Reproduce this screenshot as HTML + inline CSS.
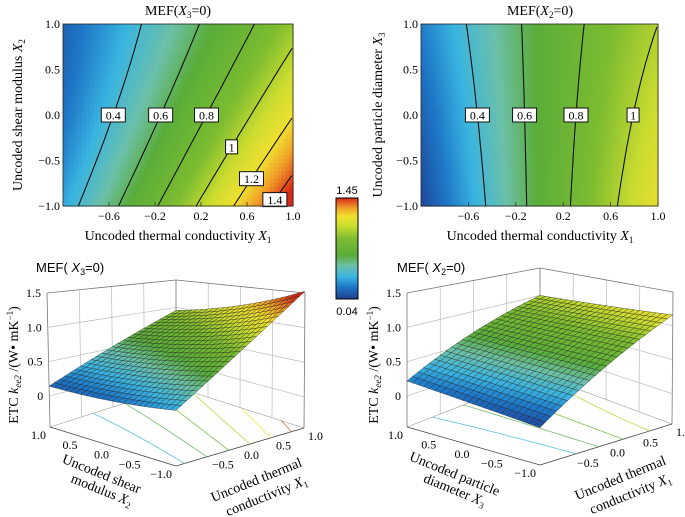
<!DOCTYPE html>
<html><head><meta charset="utf-8">
<style>
body{margin:0;background:#fff;}
svg{display:block;font-family:"Liberation Serif",serif;}
</style></head>
<body>
<svg id="fig" width="685" height="517" viewBox="0 0 685 517" xmlns="http://www.w3.org/2000/svg">
<defs>
<linearGradient id="cbgrad" x1="0" y1="1" x2="0" y2="0">
<stop offset="0" stop-color="#1f3f94"/><stop offset="0.12" stop-color="#1e78c8"/>
<stop offset="0.22" stop-color="#3ab4e0"/><stop offset="0.33" stop-color="#6cc0a8"/>
<stop offset="0.43" stop-color="#5aad3a"/><stop offset="0.6" stop-color="#7cbc30"/>
<stop offset="0.72" stop-color="#cadc30"/><stop offset="0.82" stop-color="#f0e030"/>
<stop offset="0.9" stop-color="#f0a028"/><stop offset="1" stop-color="#d82818"/>
</linearGradient>
</defs>
<g id="layer"></g>
<text x="178" y="15" font-size="14" text-anchor="middle">MEF(<tspan font-style="italic">X</tspan><tspan font-size="9" dy="3">3</tspan><tspan dy="-3">=0)</tspan></text>
<text x="540" y="15" font-size="14" text-anchor="middle">MEF(<tspan font-style="italic">X</tspan><tspan font-size="9" dy="3">2</tspan><tspan dy="-3">=0)</tspan></text>
<text x="178" y="240" font-size="14" text-anchor="middle">Uncoded thermal conductivity <tspan font-style="italic">X</tspan><tspan font-size="9" dy="3">1</tspan></text>
<text x="540" y="240" font-size="14" text-anchor="middle">Uncoded thermal conductivity <tspan font-style="italic">X</tspan><tspan font-size="9" dy="3">1</tspan></text>
<text transform="translate(22,115) rotate(-90)" font-size="14" text-anchor="middle">Uncoded shear modulus <tspan font-style="italic">X</tspan><tspan font-size="9" dy="3">2</tspan></text>
<text transform="translate(382,115) rotate(-90)" font-size="14" text-anchor="middle">Uncoded particle diameter <tspan font-style="italic">X</tspan><tspan font-size="9" dy="3">3</tspan></text>
<rect x="336" y="198" width="22" height="101" fill="url(#cbgrad)" stroke="#000" stroke-width="1"/>
<text x="347" y="194" font-size="11" text-anchor="middle" font-family="Liberation Sans,sans-serif">1.45</text>
<text x="347" y="315" font-size="11" text-anchor="middle" font-family="Liberation Sans,sans-serif">0.04</text>
<text x="36" y="272" font-size="13" font-family="Liberation Sans,sans-serif">MEF( <tspan font-style="italic">X</tspan><tspan font-size="9" dy="3">3</tspan><tspan dy="-3">=0)</tspan></text>
<text x="397" y="272" font-size="13" font-family="Liberation Sans,sans-serif">MEF( <tspan font-style="italic">X</tspan><tspan font-size="9" dy="3">2</tspan><tspan dy="-3">=0)</tspan></text>
<text transform="translate(18,365) rotate(-90)" font-size="14" text-anchor="middle">ETC <tspan font-style="italic">k</tspan><tspan font-size="9" dy="3" font-style="italic">ee2</tspan><tspan dy="-3"> /(W• mK</tspan><tspan font-size="9" dy="-5">−1</tspan><tspan dy="5">)</tspan></text>
<text transform="translate(378,365) rotate(-90)" font-size="14" text-anchor="middle">ETC <tspan font-style="italic">k</tspan><tspan font-size="9" dy="3" font-style="italic">ee2</tspan><tspan dy="-3"> /(W• mK</tspan><tspan font-size="9" dy="-5">−1</tspan><tspan dy="5">)</tspan></text>
<g font-size="14">
<text transform="translate(100,478) rotate(22)" text-anchor="middle">Uncoded shear</text>
<text transform="translate(100,494) rotate(22)" text-anchor="middle">modulus <tspan font-style="italic">X</tspan><tspan font-size="9" dy="3">2</tspan></text>
<text transform="translate(258,484) rotate(-22)" text-anchor="middle">Uncoded thermal</text>
<text transform="translate(268,500) rotate(-22)" text-anchor="middle">conductivity <tspan font-style="italic">X</tspan><tspan font-size="9" dy="3">1</tspan></text>
<text transform="translate(453,478) rotate(22)" text-anchor="middle">Uncoded particle</text>
<text transform="translate(453,494) rotate(22)" text-anchor="middle">diameter <tspan font-style="italic">X</tspan><tspan font-size="9" dy="3">3</tspan></text>
<text transform="translate(622,482) rotate(-22)" text-anchor="middle">Uncoded thermal</text>
<text transform="translate(632,498) rotate(-22)" text-anchor="middle">conductivity <tspan font-style="italic">X</tspan><tspan font-size="9" dy="3">1</tspan></text>
</g>
</svg>
<script>
// response-surface coefficients: [c0, x1, y, x1*y, y^2, x1^2]
const coefA = [0.675, 0.5, -0.19, -0.10, 0.04, 0.02];
const coefB = [0.66, 0.47, 0.0, -0.08, 0.0, -0.05];
const levelsA = [0.4, 0.6, 0.8, 1, 1.2, 1.4];
const labelYA = [0, 0, 0, -0.35, -0.7, -0.93];
const labelTextA = ["0.4", "0.6", "0.8", "1", "1.2", "1.4"];
const levelsB = [0.4, 0.6, 0.8, 1];
const labelYB = [0, 0, 0, 0];
const labelTextB = ["0.4", "0.6", "0.8", "1"];
const xTicks = [-0.6, -0.2, 0.2, 0.6, 1.0];
const xTickLabels = ["−0.6", "−0.2", "0.2", "0.6", "1.0"];
const yTicks = [1, 0.5, 0, -0.5, -1];
const yTickLabels = ["1.0", "0.5", "0.0", "−0.5", "−1.0"];
const zTicks = [0, 0.5, 1, 1.5];
const zTickLabels = ["0", "0.5", "1.0", "1.5"];
const hTicks = [1, 0.5, 0, -0.5, -1];
const hTickLabels = ["1.0", "0.5", "0.0", "−0.5", "−1.0"];
const rTicks = [-0.5, 0, 0.5, 1];
const rTickLabels = ["−0.5", "0.0", "0.5", "1.0"];
const clim = [0.04, 1.45];

const NS = "http://www.w3.org/2000/svg";
const layer = document.getElementById('layer');
function mk(tag, attrs, parent) {
  const e = document.createElementNS(NS, tag);
  for (const k in attrs) e.setAttribute(k, attrs[k]);
  (parent || layer).appendChild(e);
  return e;
}
function model(c, x, y) { return c[0] + c[1]*x + c[2]*y + c[3]*x*y + c[4]*y*y + c[5]*x*x; }
const stops = [[0,[31,63,148]],[0.12,[30,120,200]],[0.22,[58,180,224]],[0.33,[108,192,168]],[0.43,[90,173,58]],[0.6,[124,188,48]],[0.72,[202,220,48]],[0.82,[240,224,48]],[0.9,[240,160,40]],[1,[216,40,24]]];
function cmap(v) {
  let t = (v - clim[0]) / (clim[1] - clim[0]); t = Math.max(0, Math.min(1, t));
  for (let i = 1; i < stops.length; i++) {
    if (t <= stops[i][0]) {
      const a = stops[i-1], b = stops[i], f = (t - a[0]) / (b[0] - a[0]);
      const c = a[1].map((q, j) => Math.round(q + (b[1][j] - q) * f));
      return `rgb(${c[0]},${c[1]},${c[2]})`;
    }
  }
  return 'rgb(216,40,24)';
}
function solveX(c, y, lev) {
  let lo = -1, hi = 1;
  const flo = model(c, lo, y) - lev, fhi = model(c, hi, y) - lev;
  if (flo * fhi > 0) return null;
  for (let i = 0; i < 40; i++) {
    const m = (lo + hi) / 2;
    if ((model(c, m, y) - lev) * flo > 0) lo = m; else hi = m;
  }
  return (lo + hi) / 2;
}

function contourPlot(name, c, x0, x1p, levels, labY, labT) {
  const y0 = 24, y1p = 206;
  const sx = x => x0 + (x + 1) / 2 * (x1p - x0);
  const sy = y => y1p - (y + 1) / 2 * (y1p - y0);
  const g = mk('g', {});
  
  
  const N = 60, M = 46;
  for (let i = 0; i < N; i++) for (let j = 0; j < M; j++) {
    const xv = -1 + (i + 0.5) * 2 / N, yv = -1 + (j + 0.5) * 2 / M;
    mk('rect', {x: (sx(-1 + i*2/N)).toFixed(2), y: (sy(-1 + (j+1)*2/M)).toFixed(2),
      width: ((x1p - x0)/N + 0.6).toFixed(2), height: ((y1p - y0)/M + 0.6).toFixed(2), fill: cmap(model(c, xv, yv))}, g);
  }
  levels.forEach((lev, k) => {
    const pts = [];
    for (let j = 0; j <= 60; j++) {
      const yv = -1 + j * 2 / 60;
      const xv = solveX(c, yv, lev);
      if (xv !== null) pts.push(sx(xv).toFixed(1) + ',' + sy(yv).toFixed(1));
    }
    const pl = mk('polyline', {points: pts.join(' '), fill: 'none', stroke: '#111', 'stroke-width': 1.1}, g);
    
    
    const lx = solveX(c, labY[k], lev);
    if (lx !== null) {
      const w = labT[k].length * 6 + 6;
      const px = sx(lx), py = sy(labY[k]);
      const b = mk('rect', {x: px - w/2, y: py - 7, width: w, height: 14, fill: '#fff', stroke: '#111', 'stroke-width': 1}, g);
      
      
      const t = mk('text', {x: px, y: py + 4.5, 'font-size': 12, 'text-anchor': 'middle'}, g);
      t.textContent = labT[k];
      
      
    }
  });
  mk('rect', {x: x0, y: y0, width: x1p - x0, height: y1p - y0, fill: 'none', stroke: '#222', 'stroke-width': 0.8}, g);
  xTicks.forEach((v, i) => {
    mk('line', {x1: sx(v), x2: sx(v), y1: y1p, y2: y1p - 4, stroke: '#333', 'stroke-width': 0.8}, g);
    const t = mk('text', {x: sx(v), y: y1p + 14, 'font-size': 12, 'text-anchor': 'middle'}, g);
    t.textContent = xTickLabels[i];
    
    
  });
  yTicks.forEach((v, i) => {
    const t = mk('text', {x: x0 - 3, y: sy(v) + 4, 'font-size': 12, 'text-anchor': 'end'}, g);
    t.textContent = yTickLabels[i];
    
    
  });
}
contourPlot('contour-plot-x3', coefA, 63, 293, levelsA, labelYA, labelTextA);
contourPlot('contour-plot-x2', coefB, 421, 658, levelsB, labelYB, labelTextB);

function surfPlot(name, c, C, levels, rLabels) {
  const zmin = -0.45, zmax = 1.5;
  const lerp = (a, b, t) => [a[0] + (b[0]-a[0])*t, a[1] + (b[1]-a[1])*t];
  function bil(A, B, Cc, D, u, v) {
    const p0 = lerp(B, Cc, u), p1 = lerp(A, D, u); return lerp(p0, p1, v);
  }
  function P(x1, x2, z) {
    const u = (x1 + 1) / 2, v = (x2 + 1) / 2, w = (z - zmin) / (zmax - zmin);
    const f = bil(C.A, C.B, C.C, C.D, u, v), t = bil(C.At, C.Bt, C.Ct, C.Dt, u, v);
    return lerp(f, t, w);
  }
  const g = mk('g', {});
  
  
  const pstr = arr => arr.map(p => p[0].toFixed(1) + ',' + p[1].toFixed(1)).join(' ');
  const L = (a, b, col, w) => mk('line', {x1: a[0], y1: a[1], x2: b[0], y2: b[1], stroke: col, 'stroke-width': w}, g);
  [-0.5, 0, 0.5].forEach(v => { L(P(v, 1, zmin), P(v, 1, zmax), '#bbb', 0.7); L(P(1, v, zmin), P(1, v, zmax), '#bbb', 0.7); });
  zTicks.slice(0, 3).forEach(z => { L(P(-1, 1, z), P(1, 1, z), '#bbb', 0.7); L(P(1, 1, z), P(1, -1, z), '#bbb', 0.7); });
  L(P(-1,1,zmin), P(-1,1,zmax), '#777', 0.8); L(P(1,1,zmin), P(1,1,zmax), '#777', 0.8); L(P(1,-1,zmin), P(1,-1,zmax), '#777', 0.8);
  L(P(-1,1,zmax), P(1,1,zmax), '#777', 0.8); L(P(1,1,zmax), P(1,-1,zmax), '#777', 0.8);
  L(P(-1,1,zmin), P(1,1,zmin), '#999', 0.6); L(P(1,1,zmin), P(1,-1,zmin), '#999', 0.6);
  L(P(-1,1,zmin), P(-1,-1,zmin), '#444', 0.8); L(P(-1,-1,zmin), P(1,-1,zmin), '#444', 0.8);
  levels.forEach(lev => {
    const pts = [];
    for (let j = 0; j <= 40; j++) {
      const yv = -1 + j * 2 / 40; const xv = solveX(c, yv, lev);
      if (xv !== null) pts.push(P(xv, yv, zmin));
    }
    const pl = mk('polyline', {points: pstr(pts), fill: 'none', stroke: cmap(lev), 'stroke-width': 0.9, opacity: 0.8}, g);
    
    
  });
  const n = 24, cells = [];
  for (let i = 0; i < n; i++) for (let j = 0; j < n; j++) cells.push([i, j]);
  cells.sort((a, b) => (b[0] + b[1]) - (a[0] + a[1]));
  cells.forEach(([i, j]) => {
    const xa = -1 + i*2/n, xb = -1 + (i+1)*2/n, ya = -1 + j*2/n, yb = -1 + (j+1)*2/n;
    const zc = model(c, (xa+xb)/2, (ya+yb)/2);
    const q = [P(xa, ya, model(c, xa, ya)), P(xb, ya, model(c, xb, ya)), P(xb, yb, model(c, xb, yb)), P(xa, yb, model(c, xa, yb))];
    mk('polygon', {points: pstr(q), fill: cmap(zc), stroke: '#1a1a1a', 'stroke-width': 0.4, 'stroke-opacity': 0.85}, g);
  });
  zTicks.forEach((z, i) => {
    const p = P(-1, 1, z);
    const t = mk('text', {x: p[0] - 6, y: p[1] + 4, 'font-size': 12, 'text-anchor': 'end'}, g);
    t.textContent = zTickLabels[i];
    
    
  });
  hTicks.forEach((v, i) => {
    const p = P(-1, v, zmin);
    const t = mk('text', {x: p[0] - 4, y: p[1] + 12, 'font-size': 12, 'text-anchor': 'end'}, g);
    t.textContent = hTickLabels[i];
    
    
  });
  rTicks.forEach((v, i) => {
    const p = P(v, -1, zmin);
    const t = mk('text', {x: p[0] + 4, y: p[1] + 12, 'font-size': 12, 'text-anchor': 'start'}, g);
    t.textContent = rLabels[i];
    
    
  });
}
surfPlot('surface-plot-x3', coefA, {A:[50,427], At:[47,293], B:[176,466], Bt:[176,326], C:[304,428], Ct:[305,293], D:[176,387], Dt:[176,280]}, levelsA, rTickLabels);
surfPlot('surface-plot-x2', coefB, {A:[407,427], At:[407,293], B:[540,465], Bt:[540,322], C:[672,424], Ct:[673,292], D:[540,375], Dt:[540,268]}, levelsB, rTickLabels);
const svg = document.getElementById('fig');
svg.insertBefore(layer, svg.children[1]);
</script>
</body></html>
